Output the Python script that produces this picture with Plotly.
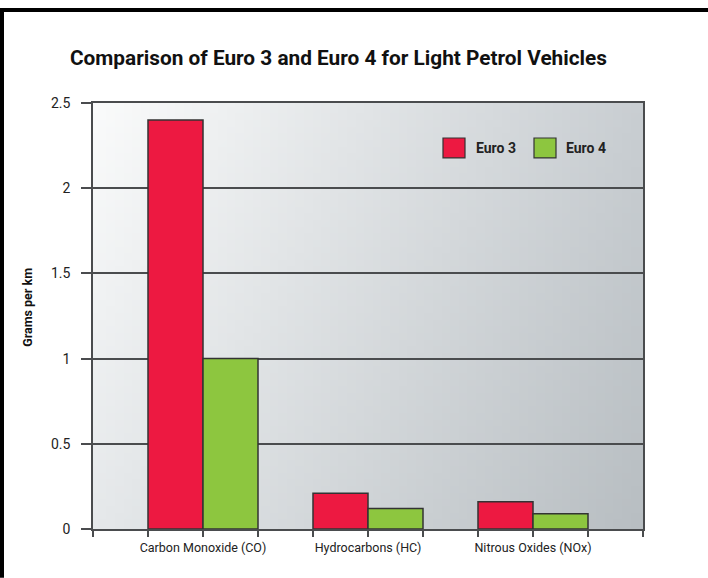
import base64
import struct
import zlib

import plotly.graph_objects as go

# ---------------- data ----------------
categories = ["Carbon Monoxide (CO)", "Hydrocarbons (HC)", "Nitrous Oxides (NOx)"]
euro3 = [2.4, 0.21, 0.16]
euro4 = [1.0, 0.12, 0.09]
y_ticks = [0, 0.5, 1, 1.5, 2, 2.5]
y_tick_labels = ["0", "0.5", "1", "1.5", "2", "2.5"]
series_names = ["Euro 3", "Euro 4"]
title_text = "Comparison of Euro 3 and Euro 4 for Light Petrol Vehicles"
y_title = "Grams per km"

# ---------------- style ----------------
W, H = 708, 578
PL, PR, PT, PB = 93, 643, 103, 529.3
RED = "#ED1941"
GREEN = "#8DC63F"
LINE = "#4a4c4e"
FONT = "Roboto, Liberation Sans, sans-serif"


def fx(p):
    return (p - PL) / (PR - PL)


def fy(p):
    return (PB - p) / (PB - PT)


def fnt(size, color="#222"):
    return dict(family=FONT, size=size, color=color)


def gradient_png(w, h):
    tl, tr, bl, br = (250, 251, 251), (201, 206, 210), (229, 232, 234), (184, 190, 194)
    rows = []
    for j in range(h):
        v = j / (h - 1)
        row = bytearray([0])
        for i in range(w):
            u = i / (w - 1)
            for c in range(3):
                val = (tl[c] * (1 - u) * (1 - v) + tr[c] * u * (1 - v)
                       + bl[c] * (1 - u) * v + br[c] * u * v)
                row.append(int(round(val)))
        rows.append(bytes(row))
    raw = b"".join(rows)

    def chunk(tag, data):
        c = struct.pack(">I", len(data)) + tag + data
        return c + struct.pack(">I", zlib.crc32(tag + data) & 0xFFFFFFFF)

    png = b"\x89PNG\r\n\x1a\n"
    png += chunk(b"IHDR", struct.pack(">IIBBBBB", w, h, 8, 2, 0, 0, 0))
    png += chunk(b"IDAT", zlib.compress(raw, 9))
    png += chunk(b"IEND", b"")
    return "data:image/png;base64," + base64.b64encode(png).decode()


xpos = list(range(len(categories)))

fig = go.Figure()
fig.add_trace(go.Bar(x=xpos, y=euro3, name=series_names[0], marker_color=RED,
                     marker_line=dict(color="#333333", width=1.5), showlegend=False))
fig.add_trace(go.Bar(x=xpos, y=euro4, name=series_names[1], marker_color=GREEN,
                     marker_line=dict(color="#333333", width=1.5), showlegend=False))

shapes = [
    # page frame
    dict(type="rect", xref="paper", yref="paper", x0=fx(0), x1=fx(W), y0=fy(12), y1=fy(8),
         fillcolor="black", line_width=0, layer="above"),
    dict(type="rect", xref="paper", yref="paper", x0=fx(0), x1=fx(4), y0=fy(H), y1=fy(8),
         fillcolor="black", line_width=0, layer="above"),
    # legend swatches
    dict(type="rect", xref="paper", yref="paper", x0=fx(443), x1=fx(465), y0=fy(158), y1=fy(138),
         fillcolor=RED, line=dict(color="#333333", width=1.2)),
    dict(type="rect", xref="paper", yref="paper", x0=fx(534), x1=fx(556), y0=fy(158), y1=fy(138),
         fillcolor=GREEN, line=dict(color="#333333", width=1.2)),
]

annotations = [
    dict(text="<b>%s</b>" % series_names[0], xref="paper", yref="paper", x=fx(474), y=fy(148),
         xanchor="left", yanchor="middle", showarrow=False, font=fnt(14)),
    dict(text="<b>%s</b>" % series_names[1], xref="paper", yref="paper", x=fx(564), y=fy(148),
         xanchor="left", yanchor="middle", showarrow=False, font=fnt(14)),
    dict(text="<b>%s</b>" % y_title, xref="paper", yref="paper", x=fx(28), y=fy(308),
         xanchor="center", yanchor="middle", textangle=-90, showarrow=False,
         font=fnt(12.5, "#111")),
]

fig.update_layout(
    width=W, height=H,
    margin=dict(l=PL, r=W - PR, t=PT, b=H - PB, pad=0),
    paper_bgcolor="white",
    plot_bgcolor="rgba(0,0,0,0)",
    barmode="group", bargap=1 / 3, bargroupgap=0,
    title=dict(text="<b>%s</b>" % title_text, x=338.5 / W, xref="container", xanchor="center",
               y=1 - 58 / H, yref="container", yanchor="middle",
               font=fnt(20.8, "#111")),
    font=fnt(13),
    images=[dict(source=gradient_png(64, 64), xref="paper", yref="paper", x=0, y=1,
                 sizex=1, sizey=1, sizing="stretch", xanchor="left", yanchor="top",
                 layer="below")],
    shapes=shapes,
    annotations=annotations,
)

fig.update_xaxes(
    range=[-2 / 3, len(categories) - 1 + 2 / 3],
    tickmode="array", tickvals=xpos, ticktext=categories,
    ticks="outside", ticklen=6, tickwidth=1.5, tickcolor=LINE,
    minor=dict(tickmode="linear", tick0=-2 / 3, dtick=1 / 3, ticks="outside", ticklen=6,
               tickwidth=1.5, tickcolor=LINE, showgrid=False),
    showgrid=False, zeroline=False,
    showline=True, linecolor=LINE, linewidth=1.5, mirror=True,
    tickfont=fnt(12.5),
)

fig.update_yaxes(
    range=[0, 2.5],
    tickmode="array", tickvals=y_ticks, ticktext=y_tick_labels,
    ticks="outside", ticklen=10, tickwidth=1.5, tickcolor=LINE,
    showgrid=True, gridcolor=LINE, gridwidth=1.5, zeroline=False,
    showline=True, linecolor=LINE, linewidth=1.5, mirror=True,
    ticklabelstandoff=8,
    tickfont=fnt(14),
)

fig.write_html("out.html")
